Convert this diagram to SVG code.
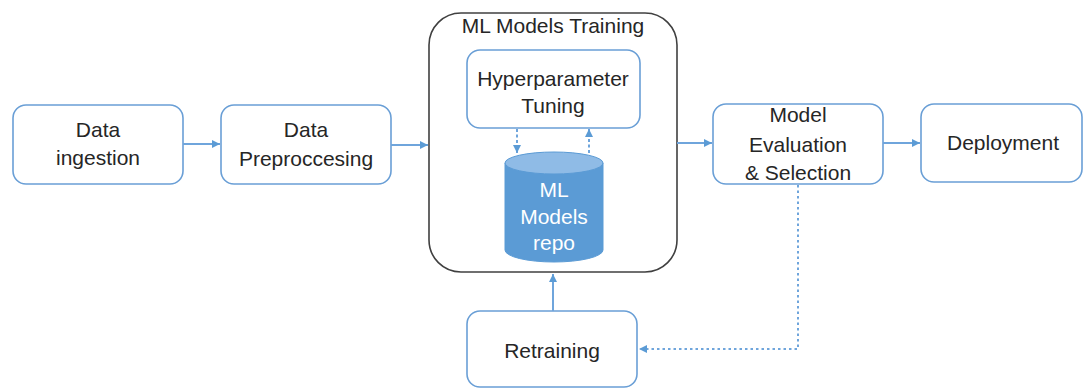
<svg xmlns="http://www.w3.org/2000/svg" width="1083" height="389" viewBox="0 0 1083 389">
<style>
.box{fill:#ffffff;stroke:#6a9fd6;stroke-width:1.6}
.big{fill:#ffffff;stroke:#404040;stroke-width:1.6}
.t{font-family:"Liberation Sans",Arial,sans-serif;font-size:21px;fill:#262626;text-anchor:middle}
.w{fill:#ffffff}
.c{stroke:#6fa5dc;stroke-width:2;fill:none}
.d{stroke-dasharray:3,2.5}
.dot{stroke-dasharray:2.5,3}
</style>
<defs>
<marker id="ah" viewBox="0 0 10 10" refX="10" refY="5" markerWidth="8" markerHeight="8" orient="auto" markerUnits="userSpaceOnUse">
<path d="M0,0 L10,5 L0,10 z" fill="#5b9bd5"/>
</marker>
</defs>
<rect width="1083" height="389" fill="#ffffff"/>
<g id="ml-training">
<rect class="big" x="429" y="13" width="248" height="259" rx="32"/>
<text class="t" x="553" y="33">ML Models Training</text>
</g>
<g id="data-ingestion">
<rect class="box" x="13" y="105" width="170" height="79" rx="13"/>
<text class="t" x="98" y="137">Data</text>
<text class="t" x="98" y="165">ingestion</text>
</g>
<g id="data-preprocessing">
<rect class="box" x="221" y="105" width="170" height="79" rx="13"/>
<text class="t" x="306" y="137">Data</text>
<text class="t" x="306" y="166">Preproccesing</text>
</g>
<g id="hyperparameter-tuning">
<rect class="box" x="467" y="50" width="173" height="78" rx="13"/>
<text class="t" x="553" y="86">Hyperparameter</text>
<text class="t" x="553" y="113">Tuning</text>
</g>
<g id="ml-repo">
<path d="M505,163 L505,250 A49,12 0 0 0 603,250 L603,163 Z" fill="#5b9bd5" stroke="#5b9bd5" stroke-width="1"/>
<ellipse cx="554" cy="163" rx="49" ry="11" fill="#8fbbe6" stroke="#5b9bd5" stroke-width="1"/>
<text class="t w" x="554" y="197">ML</text>
<text class="t w" x="554" y="224">Models</text>
<text class="t w" x="554" y="250">repo</text>
</g>
<g id="model-evaluation">
<rect class="box" x="713" y="104" width="170" height="80" rx="13"/>
<text class="t" x="798" y="122">Model</text>
<text class="t" x="798" y="152">Evaluation</text>
<text class="t" x="798" y="180">&amp; Selection</text>
</g>
<g id="deployment">
<rect class="box" x="921" y="104" width="161" height="78" rx="13"/>
<text class="t" x="1003" y="150">Deployment</text>
</g>
<g id="retraining">
<rect class="box" x="467" y="311" width="170" height="76" rx="13"/>
<text class="t" x="552" y="358">Retraining</text>
</g>
<g id="connectors">
<line class="c" x1="183" y1="144" x2="220" y2="144" marker-end="url(#ah)"/>
<line class="c" x1="391" y1="145" x2="428" y2="145" marker-end="url(#ah)"/>
<line class="c" x1="677" y1="143" x2="712" y2="143" marker-end="url(#ah)"/>
<line class="c" x1="883" y1="143" x2="920" y2="143" marker-end="url(#ah)"/>
<line class="c d" x1="517" y1="129" x2="517" y2="153" marker-end="url(#ah)"/>
<line class="c d" x1="589" y1="153" x2="589" y2="129" marker-end="url(#ah)"/>
<line class="c" x1="553" y1="311" x2="553" y2="274" marker-end="url(#ah)"/>
<polyline class="c dot" points="798,185 798,349 639,349" marker-end="url(#ah)"/>
</g>
</svg>
